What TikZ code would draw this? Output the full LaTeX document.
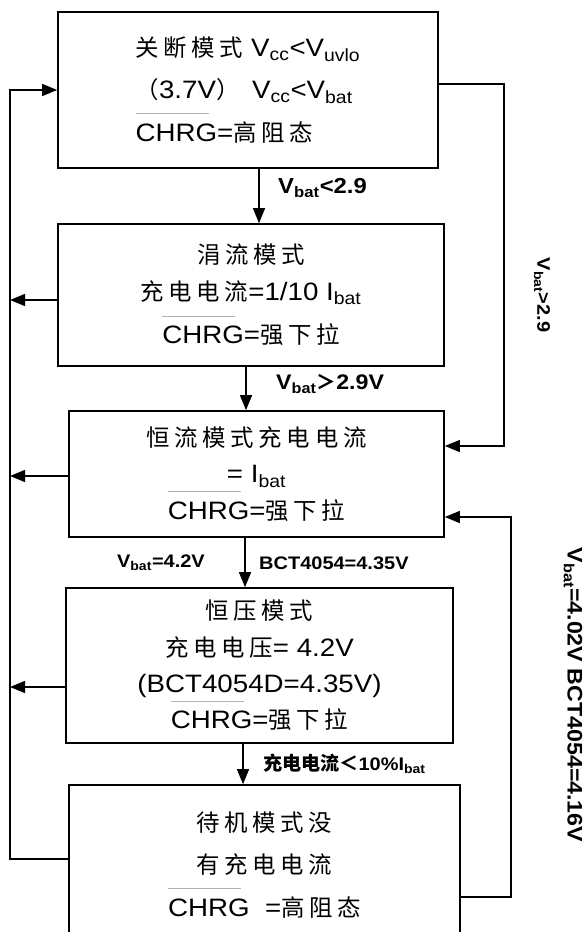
\documentclass[tikz,border=0pt]{standalone}
\usepackage{fontspec}
\setmainfont{Liberation Sans}[FakeStretch=1.1]
\newfontfamily\cjk[LetterSpace=20,Scale=0.93]{Noto Sans CJK SC}
\newfontfamily\cjkcond[Scale=1.05]{Noto Sans CJK SC}
\usetikzlibrary{arrows.meta,calc}
\newcommand{\zh}[1]{{\cjk #1}}
\newcommand{\zhc}[1]{{\cjkcond #1}}
\newcommand{\lowidx}[1]{\textsubscript{#1}}
\newcommand{\chrgbar}{\rlap{\color{black!30}\rule[1.08em]{2.9em}{0.6pt}}CHRG}

\begin{document}
\begin{tikzpicture}[x=0.03cm, y=-0.03cm,
        modebox/.style={rectangle, draw, line width=1.4pt, align=center, inner sep=0pt},
        arr/.style={-{Triangle[length=0.45cm,width=0.36cm]}, line width=1.2pt},
        cond/.style={font=\fontsize{15.5}{18}\selectfont\bfseries, inner sep=0pt}
        ]
      \useasboundingbox (0,0) rectangle (585,932);
      \coordinate (rail) at (10,0);
      \coordinate (rtop) at (504,300);
      \coordinate (rbot) at (511,700);

      % mode boxes
      \node[modebox, align=left, minimum width=11.4cm, minimum height=4.68cm,
            font=\fontsize{21.5}{36}\selectfont] (B1) at (248,90)
            {\zh{关断模式} V\lowidx{cc}<V\lowidx{uvlo}\\
             \zh{（}3.7V\zh{）}\hspace{0.5em}V\lowidx{cc}<V\lowidx{bat}\\
             \chrgbar=\zh{高阻态}};
      \node[modebox, minimum width=11.58cm, minimum height=4.26cm,
            font=\fontsize{21.5}{31}\selectfont] (B2) at (251,295)
            {\zh{涓流模式}\\ \zh{充电电流}=1/10 I\lowidx{bat}\\[6.5pt] \chrgbar=\zh{强下拉}};
      \node[modebox, minimum width=11.25cm, minimum height=3.78cm,
            font=\fontsize{21.5}{31}\selectfont] (B3) at (256.5,474)
            {\zh{恒流模式充电电流}\\ = I\lowidx{bat}\\ \chrgbar=\zh{强下拉}};
      \node[modebox, minimum width=11.61cm, minimum height=4.65cm,
            font=\fontsize{21.5}{31}\selectfont] (B4) at (259.5,665.5)
            {\zh{恒压模式}\\ \zh{充电电压}= 4.2V\\ (BCT4054D=4.35V)\\ \chrgbar=\zh{强下拉}};
      \node[modebox, minimum width=11.73cm, minimum height=4.8cm,
            font=\fontsize{21.5}{36}\selectfont] (B5) at (264.5,865)
            {\zh{待机模式没}\\ \zh{有充电电流}\\ \chrgbar\ \ =\zh{高阻态}};

      % main chain
      \draw[arr] ($(B1.south)+(11,0)$) coordinate (d1) -- (d1 |- B2.north);
      \draw[arr] ($(B2.south)+(-5,0)$) coordinate (d2) -- (d2 |- B3.north);
      \draw[arr] ($(B3.south)+(-11.5,0)$) coordinate (d3) -- (d3 |- B4.north);
      \draw[arr] ($(B4.south)+(-16.5,0)$) coordinate (d4) -- (d4 |- B5.north);

      \node[cond, anchor=west, font=\fontsize{18.5}{20}\selectfont\bfseries] (c12) at ($(d1)+(19,19)$) {V\lowidx{bat}<2.9};
      \node[cond, anchor=west, font=\fontsize{18}{20}\selectfont\bfseries] (c23) at ($(d2)+(30,17)$) {V\lowidx{bat}\zh{＞}2.9V};
      \node[cond, anchor=east] (c34a) at ($(d3)+(-40,25)$) {V\lowidx{bat}=4.2V};
      \node[cond, anchor=west] (c34b) at ($(d3)+(14,25)$) {BCT4054=4.35V};
      \node[cond, anchor=west] (c45) at ($(d4)+(20,20)$) {\zhc{充电电流＜}10\%I\lowidx{bat}};

      % left rail
      \draw[arr] ($(B2.west)+(0,5)$) coordinate (l2) -- (l2 -| rail);
      \draw[arr] ($(B3.west)+(0,2)$) coordinate (l3) -- (l3 -| rail);
      \draw[arr] ($(B4.west)+(0,21.5)$) coordinate (l4) -- (l4 -| rail);
      \draw[arr] ($(B5.west)+(0,-6)$) -| (rail |- B1.west) -- (B1.west);

      % right rails
      \draw[arr] ($(B1.east)+(0,-6)$) -| (rtop) |- ($(B3.east)+(0,-28)$);
      \draw[arr] ($(B5.east)+(0,32)$) -| (rbot) |- ($(B3.east)+(0,43)$);
      \node[cond, rotate=-90] (c13) at ($(rtop)+(38,-5)$) {V\lowidx{bat}>2.9};
      \node[cond, rotate=-90, font=\fontsize{18}{20}\selectfont\bfseries] (c53) at ($(rbot)+(62,-5)$) {V\lowidx{bat}=4.02V BCT4054=4.16V};

    \end{tikzpicture}
\end{document}
